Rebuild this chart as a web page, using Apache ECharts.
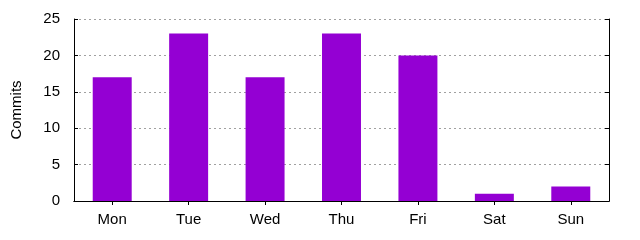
<!DOCTYPE html>
<html><head><meta charset="utf-8">
<script src="https://cdn.jsdelivr.net/npm/echarts@6/dist/echarts.min.js"></script>
<style>html,body{margin:0;padding:0;background:#fff}#c{width:640px;height:240px}</style>
</head><body><div id="c"></div>
<script>
const categories = ['Mon','Tue','Wed','Thu','Fri','Sat','Sun'];
const commits = [17, 23, 17, 23, 20, 1, 2];
const yTicks = [0, 5, 10, 15, 20, 25];

const font = 'Liberation Sans, Arial, sans-serif';
const chart = echarts.init(document.getElementById('c'), null, {renderer:'canvas'});
chart.setOption({
  animation: false,
  backgroundColor: '#fff',
  grid: {left: 74, right: 31, top: 19, bottom: 39, containLabel: false, outerBoundsMode: 'none'},
  xAxis: [{
    type: 'category', data: categories, position: 'bottom',
    axisLine: {lineStyle: {color: '#000', width: 1}},
    axisTick: {show: true, inside: true, alignWithLabel: true, length: 4, lineStyle: {color: '#000'}},
    axisLabel: {color: '#000', fontSize: 15, fontFamily: font, margin: 11},
    splitLine: {show: false}
  }, {
    type: 'category', data: categories, position: 'top',
    axisLine: {show: true, lineStyle: {color: '#000', width: 1}},
    axisTick: {show: true, inside: true, alignWithLabel: true, length: 4, lineStyle: {color: '#000'}},
    axisLabel: {show: false}
  }],
  yAxis: [{
    type: 'value', min: 0, max: 25, interval: 5, position: 'left',
    name: 'Commits', nameLocation: 'middle', nameGap: 50, nameRotate: 90,
    nameTextStyle: {color: '#000', fontSize: 15, fontFamily: font},
    axisLine: {show: true, lineStyle: {color: '#000', width: 1}},
    axisTick: {show: true, inside: true, length: 4, lineStyle: {color: '#000'}},
    axisLabel: {color: '#000', fontSize: 15, fontFamily: font, margin: 14,
      formatter: v => yTicks.includes(v) ? String(v) : ''},
    splitLine: {show: true, lineStyle: {color: '#a0a0a0', type: [2, 3], width: 1}}
  }, {
    type: 'value', min: 0, max: 25, interval: 5, position: 'right',
    axisLine: {show: true, lineStyle: {color: '#000', width: 1}},
    axisTick: {show: true, inside: true, length: 4, lineStyle: {color: '#000'}},
    axisLabel: {show: false},
    splitLine: {show: false}
  }],
  series: [{
    type: 'bar', data: commits, xAxisIndex: 0, yAxisIndex: 0,
    barWidth: '51%',
    itemStyle: {color: '#9400d3'}
  }]
});
</script></body></html>
